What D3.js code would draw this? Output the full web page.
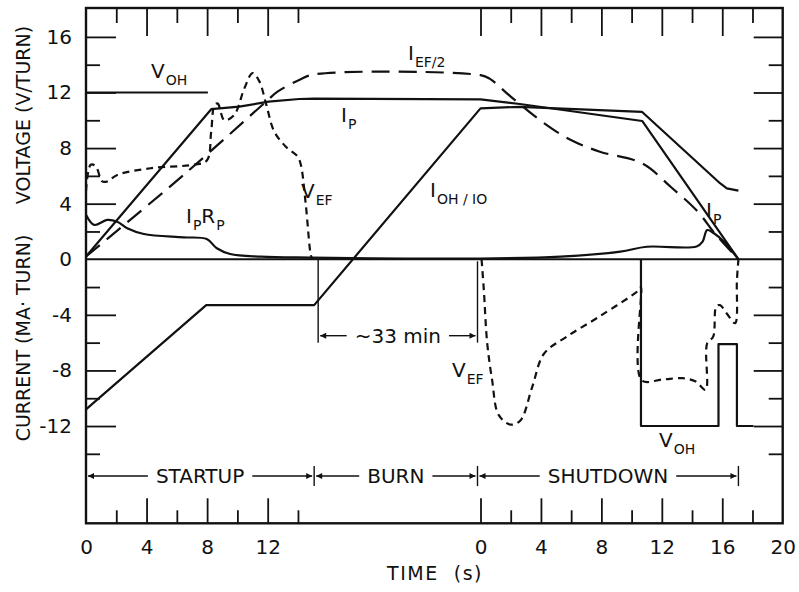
<!DOCTYPE html>
<meta charset="utf-8">
<style>
  body { margin: 0; background: #fff; }
  text { font-family: "DejaVu Sans", sans-serif; fill: #111; }
  .tick line { stroke: #111; stroke-width: 1.8; }
  .curve { fill: none; stroke: #111; stroke-width: 2.2; stroke-linejoin: round; }
  .note { stroke: #111; stroke-width: 1.4; }
</style>
<svg id="chart" width="799" height="592"></svg>
<script src="https://cdnjs.cloudflare.com/ajax/libs/d3/7.8.5/d3.min.js"></script>
<script>
// ---- data (time in s within each phase, value in V/turn or MA-turn) ----
var startupEnd = 15.07;
var burnNote = "~33 min";
var phases = ["STARTUP", "BURN", "SHUTDOWN"];

var vOhStartup = [[0, 12], [8.05, 12]];
var vOhShutdown = [[10.62, 0], [10.62, -12], [15.75, -12], [15.75, -6.1], [16.97, -6.1], [16.97, -12], [18.07, -12]];

var ipStartup = [[0, 0.2], [8.27, 10.8], [10.13, 10.98], [12.06, 11.34], [14.08, 11.53], [15.07, 11.56]];
var ipShutdown = [[0, 11.51], [2.6, 11.17], [10.7, 9.95], [17.07, 0]];

var iohStartup = [[0, -10.8], [7.94, -3.3], [15.07, -3.3]];
var iohShutdown = [[0, 10.86], [2.6, 10.97], [10.7, 10.6], [15.85, 5.47], [16.3, 5.1], [17.07, 4.94]];

var iefStartup = [[0, 0.2], [6.45, 6.07], [11.89, 11.34], [12.65, 12.06], [14.08, 12.9], [15.07, 13.3]];
var iefShutdown = [[0, 13.25], [0.6, 13.0], [2.0, 11.7], [4.2, 9.8], [5.95, 8.6], [7.9, 7.74], [10.7, 6.9],
                   [12.6, 5.2], [14.4, 3.4], [15.5, 1.87], [17.07, 0]];

var vefStartup = [[0, 4.9], [0.31, 6.8], [0.64, 6.7], [1.07, 5.6], [1.4, 5.6], [2.06, 6.07], [4.26, 6.55],
                  [7.1, 6.8], [7.98, 7.1], [8.27, 9.2], [8.49, 11.1], [8.7, 11.2], [9.14, 10.0], [9.8, 10.4],
                  [10.46, 12.3], [11.0, 13.4], [11.45, 12.8], [11.89, 11.2], [12.43, 9.2], [13.2, 8.1],
                  [13.97, 7.4], [14.19, 6.8], [14.52, 3.9], [14.85, 0.3], [14.95, 0]];
var vefShutdown = [[0.07, 0], [0.22, -2.2], [0.44, -6.0], [0.77, -8.7], [1.2, -11.2], [2.0, -11.9],
                   [2.64, -11.6], [3.42, -9.2], [4.2, -6.8], [5.7, -5.57], [7.9, -4.1], [10.5, -2.2],
                   [10.62, -2.0], [10.66, -8.7], [12.05, -8.65], [13.37, -8.56], [14.25, -8.8], [14.9, -9.4],
                   [15.0, -6.05], [15.4, -5.57], [15.6, -3.4], [15.85, -3.3], [16.3, -3.9], [16.85, -4.6],
                   [16.97, -1.5], [17.07, 0]];

var iprStartup = [[0, 3.2], [0.54, 2.47], [1.4, 2.83], [2.06, 2.7], [2.72, 2.23], [3.82, 1.82], [6.45, 1.58],
                  [7.98, 1.45], [8.64, 0.79], [9.52, 0.38], [11.56, 0.19], [14.85, 0.12]];
var iprShutdown = [[0, 0.05], [5.3, 0.19], [9.25, 0.55], [11.0, 0.9], [14.3, 0.92], [14.7, 1.27], [15.0, 2.1],
                   [15.45, 1.87], [16.1, 1.27], [17.07, 0]];

var yMajor = [-12, -8, -4, 4, 8, 12, 16];
var yMinor = [-14, -10, -6, -2, 2, 6, 10, 14];
var yLabels = [-12, -8, -4, 0, 4, 8, 12, 16];
var startupMajor = [4, 8, 12], startupMinor = [2, 6, 10, 14], startupLabels = [0, 4, 8, 12];
var shutdownMajor = [0, 4, 8, 12, 16], shutdownMinor = [2, 6, 10, 14, 18], shutdownLabels = [0, 4, 8, 12, 16, 20];

// ---- scales ----
var L = 86, R = 782.7, T = 8, B = 523.3;
var y = d3.scaleLinear().domain([-19, 18.08]).range([B, T]);
var xs = d3.scaleLinear().domain([0, 20]).range([L, L + 20 * 15.14]);   // startup seconds
var xd = d3.scaleLinear().domain([0, 20]).range([480.5, R]);            // shutdown seconds

var svg = d3.select("#chart");
svg.append("rect").attr("width", 799).attr("height", 592).attr("fill", "#fff");

var defs = svg.append("defs");
defs.append("marker").attr("id", "arr").attr("viewBox", "0 0 10 10")
    .attr("refX", 10).attr("refY", 5).attr("markerUnits", "userSpaceOnUse")
    .attr("markerWidth", 11).attr("markerHeight", 6).attr("orient", "auto-start-reverse")
  .append("path").attr("d", "M0,0L10,5L0,10Z").attr("fill", "#111");

// ---- ticks (all pointing inward) ----
function ticks(axis, tx, ty) {
  svg.append("g").attr("transform", "translate(" + tx + "," + ty + ")")
    .call(axis.tickFormat(""))
    .call(function (g) { g.select(".domain").remove(); });
}
ticks(d3.axisBottom(xs).tickValues(startupMajor).tickSize(28), 0, T);
ticks(d3.axisBottom(xs).tickValues(startupMinor).tickSize(15), 0, T);
ticks(d3.axisBottom(xd).tickValues(shutdownMajor).tickSize(28), 0, T);
ticks(d3.axisBottom(xd).tickValues(shutdownMinor).tickSize(15), 0, T);
ticks(d3.axisTop(xs).tickValues(startupMajor).tickSize(25), 0, B);
ticks(d3.axisTop(xs).tickValues(startupMinor).tickSize(13), 0, B);
ticks(d3.axisTop(xd).tickValues(shutdownMajor).tickSize(25), 0, B);
ticks(d3.axisTop(xd).tickValues(shutdownMinor).tickSize(13), 0, B);
ticks(d3.axisRight(y).tickValues(yMajor).tickSize(30), L, 0);
ticks(d3.axisRight(y).tickValues(yMinor).tickSize(14), L, 0);
ticks(d3.axisLeft(y).tickValues(yMajor).tickSize(29), R, 0);
ticks(d3.axisLeft(y).tickValues(yMinor).tickSize(14), R, 0);

// ---- tick labels ----
function labels(axis, tx, ty) {
  svg.append("g").attr("transform", "translate(" + tx + "," + ty + ")")
    .call(axis.tickSize(0).tickFormat(function (d) { return String(d); }))
    .call(function (g) {
      g.select(".domain").remove();
      g.attr("font-size", 20).attr("font-family", null);
    });
}
labels(d3.axisLeft(y).tickValues(yLabels).tickPadding(14), L, 0);
labels(d3.axisBottom(xs).tickValues(startupLabels).tickPadding(17), 0, B);
labels(d3.axisBottom(xd).tickValues(shutdownLabels).tickPadding(17), 0, B);

// ---- frame and zero line ----
svg.append("rect").attr("x", L).attr("y", T).attr("width", R - L).attr("height", B - T)
  .attr("fill", "none").attr("stroke", "#111").attr("stroke-width", 2.4);
svg.append("line").attr("x1", L).attr("x2", R).attr("y1", y(0)).attr("y2", y(0))
  .attr("stroke", "#111").attr("stroke-width", 1.8);

// ---- curves ----
function toPx(points, sx) { return points.map(function (p) { return [sx(p[0]), y(p[1])]; }); }
var straight = d3.line();
var smooth = d3.line().curve(d3.curveCatmullRom.alpha(0.5));

var curves = [
  { start: vOhStartup, shut: vOhShutdown, joined: false, gen: straight, dash: null },
  { start: ipStartup, shut: ipShutdown, joined: true, gen: straight, dash: null },
  { start: iohStartup, shut: iohShutdown, joined: true, gen: straight, dash: null },
  { start: iprStartup, shut: iprShutdown, joined: true, gen: smooth, dash: null },
  { start: iefStartup, shut: iefShutdown, joined: true, gen: smooth, dash: "18,9" },
  { start: vefStartup, shut: vefShutdown, joined: false, gen: smooth, dash: "7,5" }
];
curves.forEach(function (c) {
  var a = toPx(c.start, xs), b = toPx(c.shut, xd);
  var parts = c.joined ? [a.concat(b)] : [a, b];
  parts.forEach(function (pts) {
    svg.append("path").attr("class", "curve").attr("d", c.gen(pts))
      .attr("stroke-dasharray", c.dash);
  });
});

// ---- curve labels (main letter + subscripts) ----
var curveLabels = [
  { x: 151, y: 78, parts: [["V", 0], ["OH", 1]] },
  { x: 408, y: 60, parts: [["I", 0], ["EF/2", 1]] },
  { x: 341, y: 122, parts: [["I", 0], ["P", 1]] },
  { x: 301, y: 198, parts: [["V", 0], ["EF", 1]] },
  { x: 186, y: 223, parts: [["I", 0], ["P", 1], ["R", 0], ["P", 1]] },
  { x: 430, y: 197, parts: [["I", 0], ["OH / IO", 1]] },
  { x: 706, y: 217, parts: [["I", 0], ["P", 1]] },
  { x: 452, y: 377, parts: [["V", 0], ["EF", 1]] },
  { x: 659, y: 447, parts: [["V", 0], ["OH", 1]] }
];
curveLabels.forEach(function (l) {
  var t = svg.append("text").attr("x", l.x).attr("y", l.y).attr("font-size", 20);
  var low = 0;
  l.parts.forEach(function (p) {
    var shift = p[1] ? 7 - low : -low;
    low = p[1] ? 7 : 0;
    t.append("tspan").attr("dy", shift).attr("font-size", p[1] ? 14 : 20)
      .attr("dx", p[1] ? 1 : 0).text(p[0]);
  });
});

// ---- phase brackets ----
function bracket(x0, x1, yy, label) {
  var mid = (x0 + x1) / 2;
  var txt = svg.append("text").attr("x", mid).attr("y", yy + 7).attr("text-anchor", "middle")
    .attr("font-size", 20).text(label);
  var w = txt.node().getComputedTextLength();
  svg.append("line").attr("class", "note").attr("x1", x0 + 2).attr("x2", mid - w / 2 - 8)
    .attr("y1", yy).attr("y2", yy).attr("marker-start", "url(#arr)");
  svg.append("line").attr("class", "note").attr("x1", mid + w / 2 + 8).attr("x2", x1 - 2)
    .attr("y1", yy).attr("y2", yy).attr("marker-end", "url(#arr)");
}
function bar(x, y0, y1) {
  svg.append("line").attr("class", "note").attr("x1", x).attr("x2", x)
    .attr("y1", y0).attr("y2", y1).attr("stroke-width", 1.8);
}

var rowY = y(-15.6);
var edges = [xs(0), xs(startupEnd), xd(0) - 3, xd(17.07)];
phases.forEach(function (p, i) { bracket(edges[i], edges[i + 1], rowY, p); });
edges.slice(1).forEach(function (e) { bar(e, rowY - 10, rowY + 10); });

// burn duration marker
var bx0 = xs(startupEnd) + 4, bx1 = xd(0) - 3;
bar(bx0, y(0), y(-6));
bar(bx1, y(0) + 2, y(-6));
bracket(bx0, bx1, y(-5.5), burnNote);

// ---- axis titles ----
svg.append("text").attr("transform", "translate(30,115) rotate(-90)").attr("text-anchor", "middle")
  .attr("font-size", 19).text("VOLTAGE (V/TURN)");
svg.append("text").attr("transform", "translate(30,338) rotate(-90)").attr("text-anchor", "middle")
  .attr("font-size", 19).text("CURRENT (MA\u00b7 TURN)");
svg.append("text").attr("x", 435).attr("y", 580).attr("text-anchor", "middle")
  .attr("font-size", 19).attr("letter-spacing", 1.5).text("TIME  (s)").style("white-space", "pre");
</script>
